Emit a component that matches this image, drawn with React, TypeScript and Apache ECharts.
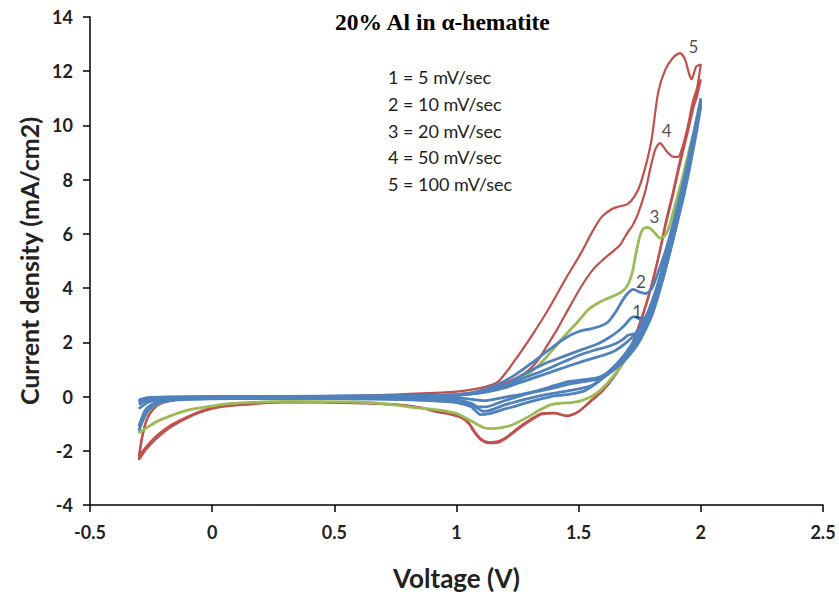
import React, { useEffect, useRef } from "react";
import * as echarts from "echarts";

// ---- Data (Voltage V, Current density mA/cm2) ----
const red100Fwd: number[][] = [
  [-0.3, -2.34], [-0.29, -1.7], [-0.27, -0.9], [-0.24, -0.45], [-0.2, -0.22], [-0.12, -0.1], [0.0, -0.04],
  [0.3, 0.0], [0.6, 0.03], [0.896, 0.13], [1.0, 0.18], [1.1, 0.32], [1.17, 0.55], [1.24, 1.35], [1.305, 2.2],
  [1.375, 3.2], [1.444, 4.3], [1.51, 5.3], [1.551, 6.0], [1.592, 6.6], [1.633, 6.9], [1.661, 7.0], [1.70, 7.1],
  [1.73, 7.4], [1.755, 7.9], [1.796, 9.35], [1.825, 11.2], [1.854, 12.05], [1.886, 12.5], [1.915, 12.67],
  [1.936, 12.42], [1.952, 11.9], [1.962, 11.7], [1.981, 12.17], [2.0, 12.25],
];
const red100Rev: number[][] = [
  [2.0, 12.25], [1.985, 11.4], [1.968, 10.9], [1.945, 9.9], [1.915, 8.73], [1.885, 7.5], [1.858, 6.5],
  [1.83, 5.3], [1.796, 4.04], [1.755, 2.83], [1.702, 1.6], [1.649, 0.8], [1.6, 0.25], [1.55, -0.15],
  [1.5, -0.55], [1.45, -0.72], [1.4, -0.62], [1.35, -0.65], [1.3, -0.9], [1.26, -1.15], [1.211, -1.49],
  [1.17, -1.7], [1.13, -1.72], [1.1, -1.6], [1.075, -1.35], [1.05, -1.0], [1.019, -0.78], [0.97, -0.65],
  [0.924, -0.58], [0.855, -0.42], [0.75, -0.3], [0.585, -0.24], [0.31, -0.21], [0.106, -0.32], [0.0, -0.45],
  [-0.08, -0.7], [-0.168, -1.12], [-0.234, -1.6], [-0.27, -1.95], [-0.3, -2.34],
];
const red50Fwd: number[][] = [
  [-0.3, -2.2], [-0.285, -1.4], [-0.26, -0.7], [-0.22, -0.3], [-0.15, -0.12], [0.0, -0.04], [0.4, 0.0],
  [0.8, 0.03], [1.0, 0.08], [1.117, 0.24], [1.211, 0.54], [1.281, 0.87], [1.33, 1.3], [1.362, 1.75],
  [1.41, 2.45], [1.444, 3.0], [1.51, 4.05], [1.56, 4.7], [1.6, 5.05], [1.633, 5.3], [1.67, 5.6], [1.70, 6.05],
  [1.72, 6.3], [1.743, 6.75], [1.772, 7.55], [1.792, 8.36], [1.813, 9.1], [1.833, 9.35], [1.86, 9.05],
  [1.885, 8.85], [1.907, 8.84], [1.925, 9.2], [1.95, 10.0], [1.975, 10.9], [2.0, 11.7],
];
const red50Rev: number[][] = [
  [2.0, 11.7], [1.985, 11.1], [1.968, 10.6], [1.945, 9.7], [1.915, 8.6], [1.885, 7.4], [1.858, 6.4],
  [1.83, 5.25], [1.796, 4.0], [1.755, 2.8], [1.702, 1.58], [1.649, 0.78], [1.6, 0.22], [1.55, -0.18],
  [1.5, -0.55], [1.45, -0.7], [1.4, -0.6], [1.35, -0.62], [1.3, -0.86], [1.26, -1.1], [1.211, -1.45],
  [1.17, -1.65], [1.13, -1.68], [1.1, -1.56], [1.075, -1.3], [1.05, -0.97], [1.019, -0.76], [0.97, -0.63],
  [0.924, -0.56], [0.855, -0.41], [0.75, -0.29], [0.585, -0.23], [0.31, -0.2], [0.106, -0.3], [0.0, -0.42],
  [-0.08, -0.66], [-0.168, -1.05], [-0.234, -1.5], [-0.27, -1.85], [-0.3, -2.2],
];
const green20Fwd: number[][] = [
  [-0.3, -1.35], [-0.285, -0.9], [-0.26, -0.5], [-0.22, -0.25], [-0.15, -0.1], [0.0, -0.03], [0.4, 0.0],
  [0.8, 0.02], [1.0, 0.07], [1.1, 0.15], [1.17, 0.26], [1.23, 0.5], [1.281, 0.75], [1.33, 1.1], [1.362, 1.4],
  [1.41, 1.9], [1.444, 2.25], [1.48, 2.6], [1.51, 2.9], [1.539, 3.2], [1.579, 3.45], [1.608, 3.58],
  [1.64, 3.7], [1.674, 3.85], [1.70, 4.1], [1.72, 4.6], [1.735, 5.3], [1.75, 5.9], [1.765, 6.2],
  [1.784, 6.24], [1.81, 6.05], [1.833, 5.85], [1.85, 5.9], [1.866, 6.15], [1.89, 6.9], [1.92, 7.9],
  [1.95, 9.0], [1.975, 9.9], [2.0, 10.9],
];
const green20Rev: number[][] = [
  [2.0, 10.9], [1.98, 10.0], [1.955, 8.9], [1.925, 7.7], [1.895, 6.6], [1.865, 5.5], [1.835, 4.5],
  [1.805, 3.6], [1.77, 2.8], [1.73, 2.0], [1.69, 1.35], [1.65, 0.85], [1.61, 0.42], [1.57, 0.1],
  [1.539, -0.05], [1.5, -0.18], [1.469, -0.22], [1.42, -0.25], [1.387, -0.3], [1.34, -0.5], [1.293, -0.75],
  [1.24, -1.0], [1.199, -1.12], [1.15, -1.18], [1.117, -1.16], [1.08, -1.0], [1.04, -0.8], [1.0, -0.62],
  [0.93, -0.5], [0.85, -0.43], [0.7, -0.26], [0.585, -0.2], [0.31, -0.18], [0.1, -0.24], [0.036, -0.3],
  [-0.1, -0.5], [-0.209, -0.85], [-0.26, -1.1], [-0.3, -1.35],
];
const blue10aFwd: number[][] = [
  [-0.3, -0.22], [-0.28, -0.1], [-0.2, -0.03], [0.2, 0.0], [0.7, 0.02], [0.965, 0.06], [1.05, 0.12],
  [1.1, 0.22], [1.17, 0.45], [1.24, 0.8], [1.305, 1.22], [1.375, 1.7], [1.444, 2.15], [1.5, 2.4],
  [1.55, 2.5], [1.59, 2.6], [1.62, 2.75], [1.65, 3.1], [1.68, 3.55], [1.70, 3.8], [1.723, 3.95],
  [1.75, 3.85], [1.775, 3.8], [1.80, 4.0], [1.83, 4.7], [1.86, 5.5], [1.89, 6.5], [1.92, 7.6],
  [1.95, 8.8], [1.975, 9.9], [2.0, 11.0],
];
const blue10aRev: number[][] = [
  [2.0, 11.0], [1.975, 9.8], [1.95, 8.8], [1.92, 7.6], [1.89, 6.45], [1.865, 5.5], [1.84, 4.6],
  [1.815, 3.8], [1.79, 3.1], [1.76, 2.45], [1.73, 1.95], [1.70, 1.55], [1.66, 1.15], [1.62, 0.85],
  [1.58, 0.55], [1.55, 0.35], [1.52, 0.2], [1.485, 0.12], [1.44, 0.06], [1.387, 0.0], [1.33, -0.12],
  [1.281, -0.24], [1.23, -0.38], [1.182, -0.5], [1.14, -0.62], [1.10, -0.67], [1.075, -0.5],
  [1.06, -0.38], [1.02, -0.26], [0.978, -0.2], [0.843, -0.13], [0.5, -0.08], [0.1, -0.08], [-0.1, -0.1],
  [-0.17, -0.15], [-0.234, -0.3], [-0.265, -0.55], [-0.285, -0.9], [-0.3, -1.24],
];
const blue5Fwd: number[][] = [
  [-0.3, -0.15], [-0.27, -0.06], [-0.2, -0.02], [0.3, 0.0], [0.9, 0.03], [1.0, 0.05], [1.1, 0.18],
  [1.2, 0.42], [1.281, 0.85], [1.362, 1.22], [1.444, 1.5], [1.51, 1.72], [1.579, 1.95], [1.62, 2.15],
  [1.66, 2.4], [1.69, 2.65], [1.715, 2.9], [1.731, 2.95], [1.75, 2.85], [1.77, 2.9], [1.80, 3.4],
  [1.83, 4.1], [1.855, 4.9], [1.88, 5.8], [1.905, 6.7], [1.93, 7.7], [1.96, 8.9], [1.98, 9.9], [2.0, 10.8],
];
const blue5Rev: number[][] = [
  [2.0, 10.8], [1.98, 9.8], [1.955, 8.6], [1.93, 7.5], [1.9, 6.3], [1.875, 5.4], [1.85, 4.5],
  [1.825, 3.7], [1.80, 3.0], [1.77, 2.4], [1.74, 1.9], [1.70, 1.45], [1.66, 1.1], [1.62, 0.82],
  [1.59, 0.66], [1.57, 0.62], [1.55, 0.6], [1.52, 0.55], [1.47, 0.48], [1.40, 0.32], [1.322, 0.17],
  [1.25, 0.0], [1.182, -0.2], [1.12, -0.38], [1.088, -0.38], [1.06, -0.25], [1.0, -0.12], [0.8, -0.06],
  [0.3, -0.05], [0.0, -0.06], [-0.2, -0.1], [-0.26, -0.2], [-0.3, -0.45],
];
const blue5bFwd: number[][] = [
  [-0.3, -0.12], [-0.25, -0.03], [0.3, 0.01], [0.9, 0.03], [1.0, 0.05], [1.1, 0.15], [1.2, 0.38],
  [1.281, 0.7], [1.362, 0.98], [1.444, 1.3], [1.51, 1.55], [1.56, 1.7], [1.61, 1.82], [1.65, 1.95],
  [1.68, 2.1], [1.70, 2.25], [1.72, 2.3], [1.745, 2.35], [1.78, 2.8], [1.81, 3.5], [1.84, 4.3],
  [1.87, 5.2], [1.90, 6.3], [1.93, 7.4], [1.96, 8.7], [1.985, 10.0], [2.0, 10.7],
];
const blue5bRev: number[][] = [
  [2.0, 10.7], [1.975, 9.4], [1.95, 8.3], [1.92, 7.1], [1.89, 6.0], [1.86, 5.0], [1.835, 4.2],
  [1.81, 3.4], [1.78, 2.7], [1.75, 2.15], [1.71, 1.65], [1.67, 1.25], [1.63, 0.95], [1.593, 0.75],
  [1.57, 0.68], [1.52, 0.62], [1.457, 0.55], [1.40, 0.4], [1.30, 0.15], [1.20, -0.02], [1.12, -0.15],
  [1.08, -0.12], [1.0, -0.05], [0.5, -0.02], [0.0, -0.03], [-0.2, -0.06], [-0.27, -0.15], [-0.3, -0.3],
];
const blue10bFwd: number[][] = [
  [-0.3, -0.18], [-0.27, -0.06], [0.3, 0.0], [0.9, 0.02], [1.0, 0.04], [1.1, 0.14], [1.2, 0.33],
  [1.281, 0.58], [1.362, 0.83], [1.444, 1.08], [1.51, 1.28], [1.56, 1.42], [1.61, 1.55], [1.65, 1.7],
  [1.69, 1.95], [1.72, 2.2], [1.75, 2.55], [1.78, 3.0], [1.81, 3.6], [1.84, 4.4], [1.87, 5.3], [1.90, 6.4],
  [1.93, 7.6], [1.96, 8.9], [1.985, 10.1], [2.0, 10.9],
];
const blue10bRev: number[][] = [
  [2.0, 10.9], [1.975, 9.6], [1.95, 8.5], [1.92, 7.3], [1.89, 6.2], [1.86, 5.2], [1.83, 4.3],
  [1.80, 3.5], [1.77, 2.8], [1.74, 2.25], [1.70, 1.7], [1.66, 1.25], [1.62, 0.9], [1.58, 0.55],
  [1.55, 0.4], [1.51, 0.3], [1.45, 0.2], [1.37, 0.08], [1.28, -0.1], [1.20, -0.3], [1.14, -0.5],
  [1.11, -0.55], [1.085, -0.42], [1.05, -0.3], [0.97, -0.18], [0.8, -0.1], [0.3, -0.06], [0.0, -0.07],
  [-0.15, -0.1], [-0.22, -0.2], [-0.27, -0.45], [-0.3, -1.1],
];

// curve number labels
const curveLabelText = ["5", "4", "3", "2", "1"];
const curveLabelX = [1.97, 1.86, 1.81, 1.755, 1.74];
const curveLabelY = [12.9, 9.8, 6.65, 4.25, 3.15];

// legend text lines
const scanRateLines = [
  "1 = 5 mV/sec",
  "2 = 10 mV/sec",
  "3 = 20 mV/sec",
  "4 = 50 mV/sec",
  "5 = 100 mV/sec",
];

const xTicks = { min: -0.5, max: 2.5, interval: 0.5 };
const yTicks = { min: -4, max: 14, interval: 2 };

const RED = "#C0504D";
const GREEN = "#9BBB59";
const BLUE = "#4F81BD";

export default function App() {
  const ref = useRef<HTMLDivElement>(null);
  useEffect(() => {
    if (!ref.current) return;
    const chart = echarts.init(ref.current, undefined, { renderer: "svg" });

    const loops: { data: number[][]; color: string; width: number }[] = [
      { data: [...red50Fwd, ...red50Rev], color: RED, width: 2.2 },
      { data: [...red100Fwd, ...red100Rev], color: RED, width: 2.2 },
      { data: [...green20Fwd, ...green20Rev], color: GREEN, width: 2.8 },
      { data: [...blue10bFwd, ...blue10bRev], color: BLUE, width: 2.8 },
      { data: [...blue5bFwd, ...blue5bRev], color: BLUE, width: 2.8 },
      { data: [...blue5Fwd, ...blue5Rev], color: BLUE, width: 2.8 },
      { data: [...blue10aFwd, ...blue10aRev], color: BLUE, width: 2.8 },
    ];

    const series: any[] = loops.map((l) => ({
      type: "line",
      data: l.data,
      showSymbol: false,
      symbol: "none",
      smooth: 0.25,
      lineStyle: { color: l.color, width: l.width },
      silent: true,
    }));

    series.push({
      type: "scatter",
      symbolSize: 0,
      data: curveLabelText.map((t, i) => ({ value: [curveLabelX[i], curveLabelY[i]], name: t })),
      label: {
        show: true,
        position: "inside",
        formatter: "{b}",
        color: "#222",
        fontSize: 17,
        fontFamily: "Lato",
      },
      z: 10,
    });

    const legendGraphics = scanRateLines.map((t, i) => ({
      type: "text",
      left: 388,
      top: 68 + i * 26.75,
      style: { text: t, fill: "#222", font: "18px Lato" },
    }));

    chart.setOption({
      animation: false,
      backgroundColor: "#fff",
      grid: { left: 90, right: 16, top: 17, bottom: 96, containLabel: false, outerBoundsMode: "none" },
      xAxis: {
        type: "value",
        min: xTicks.min,
        max: xTicks.max,
        interval: xTicks.interval,
        splitLine: { show: false },
        axisLine: { onZero: false, lineStyle: { color: "#000", width: 1.5 } },
        axisTick: { show: true, length: 7, lineStyle: { color: "#000", width: 1.5 } },
        axisLabel: { color: "#222", fontSize: 18, fontWeight: "bold", fontFamily: "Lato", margin: 18 },
        name: "Voltage (V)",
        nameLocation: "middle",
        nameGap: 60,
        nameTextStyle: { color: "#222", fontSize: 26, fontWeight: "bold", fontFamily: "Lato" },
      },
      yAxis: {
        type: "value",
        min: yTicks.min,
        max: yTicks.max,
        interval: yTicks.interval,
        splitLine: { show: false },
        axisLine: { onZero: false, lineStyle: { color: "#000", width: 1.5 } },
        axisTick: { show: true, length: 7, lineStyle: { color: "#000", width: 1.5 } },
        axisLabel: { color: "#222", fontSize: 18, fontWeight: "bold", fontFamily: "Lato", margin: 17 },
        name: "Current density (mA/cm2)",
        nameLocation: "middle",
        nameGap: 42,
        nameRotate: 90,
        nameTextStyle: { color: "#222", fontSize: 25, fontWeight: "bold", fontFamily: "Lato" },
      },
      graphic: [
        {
          type: "text",
          left: 335,
          top: 10,
          style: { text: "20% Al in α-hematite", fill: "#000", font: "bold 23.5px 'Liberation Serif'" },
        },
        ...legendGraphics,
      ],
      series,
    });
    return () => chart.dispose();
  }, []);
  return (
    <div
      ref={ref}
      style={{ position: "fixed", left: 0, top: 0, width: 839, height: 601, background: "#fff" }}
    />
  );
}
